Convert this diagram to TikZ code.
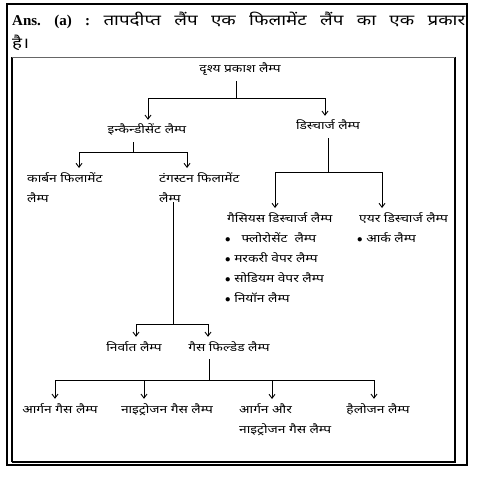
\documentclass[tikz,border=0pt]{standalone}
\usepackage{fontspec}
\setmainfont{Liberation Serif}
\newfontfamily\hindi[Script=Devanagari,FakeStretch=1.25]{Noto Sans}
\usetikzlibrary{arrows.meta,positioning,calc}
\tikzset{lbl/.style={font=\hindi\fontsize{11}{20}\selectfont,inner xsep=1pt,inner ysep=4pt,text height=10pt,text depth=4pt},
  lbltwo/.style={font=\hindi\fontsize{11}{20}\selectfont,inner xsep=1pt,inner ysep=4pt,align=left},
  edge/.style={-{Straight Barb[length=4pt,width=6pt]},line width=0.9pt}}

\begin{document}
\begin{tikzpicture}[x=1pt,y=-1pt]
\useasboundingbox (0,0) rectangle (486,489);
\draw[line width=1.1pt] (7,4) rectangle (467,465);
\draw[line width=1.4pt] (12,462) -- (12,57) (455,57) -- (455,462) -- (12,462);
\draw[line width=0.6pt,black!60] (12,57) -- (455,57);
% heading
\node[anchor=west,inner sep=0pt] (ans) at (12,20) {\hbox to 453pt{\fontsize{15}{16}\selectfont\bfseries Ans.\hfill(a)\hfill:\hfill{\hindi\mdseries\fontsize{15}{16}\selectfont तापदीप्त\hfill लैंप\hfill एक\hfill फिलामेंट\hfill लैंप\hfill का\hfill एक\hfill प्रकार}}};
\node[anchor=west,inner sep=0pt,font=\hindi\fontsize{15}{16}\selectfont] (ans2) at (12,43) {है।};
% tree
\node[lbl] (root) at (240,70) {दृश्य प्रकाश लैम्प};
\node[lbl] (inc) at (147,131) {इन्कैन्डीसेंट लैम्प};
\node[lbl] (dis) at (328,127) {डिस्चार्ज लैम्प};
\node[lbltwo,anchor=north west] (carbon) at (26,168) {कार्बन फिलामेंट\\लैम्प};
\node[lbltwo,anchor=north west] (tungsten) at (158,168) {टंगस्टन फिलामेंट\\लैम्प};
\node[lbl,anchor=north west] (gaseous) at (226,208) {गैसियस डिस्चार्ज लैम्प};
\node[lbl,anchor=north west] (air) at (358,208) {एयर डिस्चार्ज लैम्प};
\node[lbltwo,anchor=north west] (glist) at (224,228) {$\bullet$\quad फ्लोरोसेंट\ \ लैम्प\\$\bullet$ मरकरी वेपर लैम्प\\$\bullet$ सोडियम वेपर लैम्प\\$\bullet$ नियॉन लैम्प};
\node[lbltwo,anchor=north west] (alist) at (356,228) {$\bullet$ आर्क लैम्प};
\node[lbl] (vac) at (134,348) {निर्वात लैम्प};
\node[lbl] (gasfill) at (229,348) {गैस फिल्डेड लैम्प};
\node[lbl] (argon) at (60,410) {आर्गन गैस लैम्प};
\node[lbl] (nitro) at (167,410) {नाइट्रोजन गैस लैम्प};
\node[lbltwo,anchor=north west] (argnit) at (238,399) {आर्गन और\\नाइट्रोजन गैस लैम्प};
\node[lbl] (halogen) at (378,410) {हैलोजन लैम्प};
% connectors
\draw[edge] ([xshift=-4pt]root.south) -- ++(0,17) -| ([xshift=1pt]inc.north);
\draw[edge] ([xshift=-4pt]root.south) -- ++(0,17) -| ([xshift=-3pt]dis.north);
\draw[edge] ([xshift=-14pt]inc.south) -- ++(0,10) -| ([xshift=53pt]carbon.north west);
\draw[edge] ([xshift=-14pt]inc.south) -- ++(0,10) -| ([xshift=29pt]tungsten.north west);
\draw[edge] (dis.south) -- ++(0,34) -| ([xshift=49pt]gaseous.north west);
\draw[edge] (dis.south) -- ++(0,34) -| ([xshift=24pt]air.north west);
\draw[edge] ([xshift=15pt,yshift=4pt]tungsten.south west) |- ([xshift=2pt,yshift=12pt]vac.north) -- ([xshift=2pt]vac.north);
\draw[edge] ([xshift=15pt,yshift=4pt]tungsten.south west) |- ([xshift=-21pt,yshift=12pt]gasfill.north) -- ([xshift=-21pt]gasfill.north);
\draw[edge] ([xshift=-20pt]gasfill.south) -- ++(0,21) -| ([xshift=-5pt]argon.north);
\draw[edge] ([xshift=-20pt]gasfill.south) -- ++(0,21) -| ([xshift=-23pt]nitro.north);
\draw[edge] ([xshift=-20pt]gasfill.south) -- ++(0,21) -| ([xshift=34pt]argnit.north west);
\draw[edge] ([xshift=-20pt]gasfill.south) -- ++(0,21) -| ([xshift=-4pt]halogen.north);
\end{tikzpicture}
\end{document}
